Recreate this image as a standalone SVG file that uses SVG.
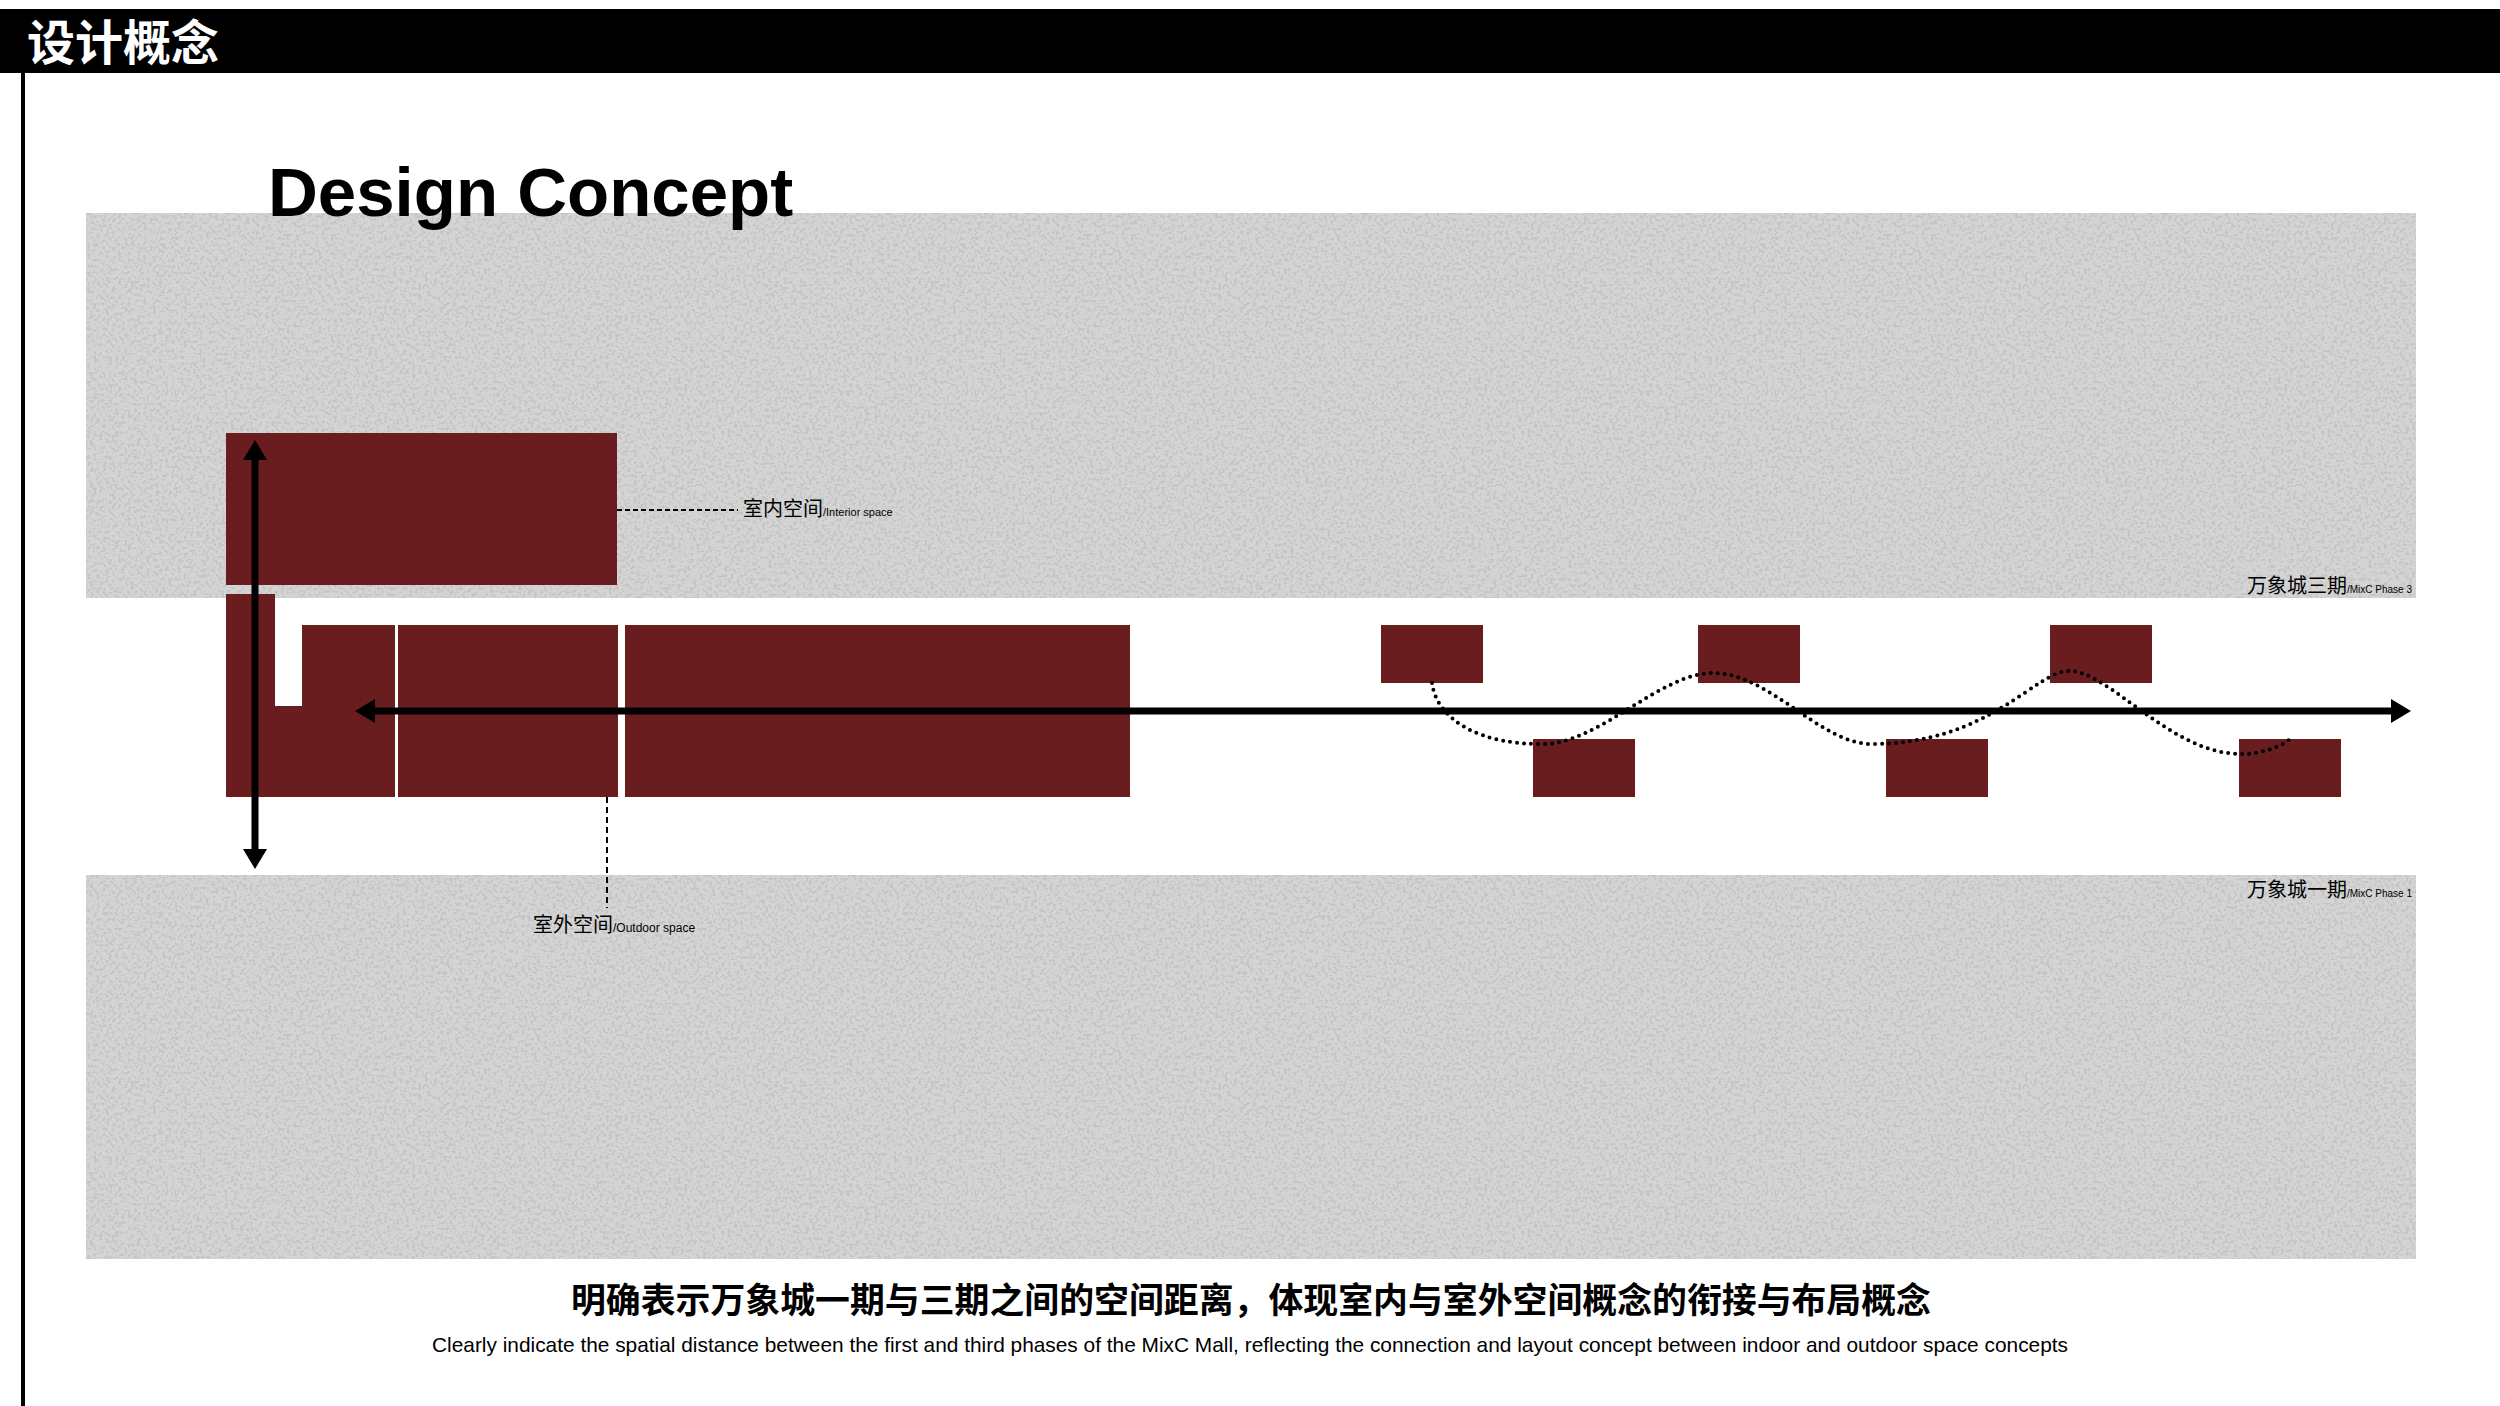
<svg xmlns="http://www.w3.org/2000/svg" width="2500" height="1406" viewBox="0 0 2500 1406">
  <defs>
    <style>
      .red { fill: #6a1d1f; }
      .band { fill: #d4d4d4; }
      .grain { fill: #000; filter: url(#grainF); }
      .cjk { font-family: "Noto Sans CJK SC", "Liberation Sans", sans-serif; fill: #000; }
      .lat { font-family: "Liberation Sans", "Noto Sans", sans-serif; }
      .arrow { stroke: #000; stroke-width: 7; fill: none; marker-start: url(#ah); marker-end: url(#ah); }
      .lead { stroke: #000; stroke-width: 2; fill: none; }
      .dots { stroke: #000; stroke-width: 4; fill: none; stroke-linecap: round; stroke-dasharray: 0 7; }
    </style>
    <filter id="grainF" x="0" y="0" width="1" height="1" filterUnits="objectBoundingBox">
      <feTurbulence type="fractalNoise" baseFrequency="0.32" numOctaves="2" seed="7" result="n"/>
      <feColorMatrix in="n" type="matrix" values="0 0 0 0 0.56  0 0 0 0 0.56  0 0 0 0 0.56  9 0 0 0 -4.6"/>
    </filter>
    <marker id="ah" viewBox="0 0 20 24" refX="10" refY="12" markerWidth="20" markerHeight="24" markerUnits="userSpaceOnUse" orient="auto-start-reverse">
      <path d="M0,0 L20,12 L0,24 Z" fill="#000"/>
    </marker>
  </defs>

  <rect x="0" y="0" width="2500" height="1406" fill="#ffffff"/>

  <!-- header -->
  <g id="header">
    <rect x="0" y="9" width="2500" height="64" fill="#000"/>
    <text class="cjk" x="27" y="60" font-size="48" font-weight="bold" style="fill:#fff">设计概念</text>
    <rect x="21" y="73" width="4" height="1333" fill="#000"/>
  </g>

  <!-- gray bands -->
  <g id="phase3-band">
    <rect class="band" x="86" y="213" width="2330" height="385"/>
    <rect class="grain" x="86" y="213" width="2330" height="385"/>
  </g>
  <g id="phase1-band">
    <rect class="band" x="86" y="875" width="2330" height="384"/>
    <rect class="grain" x="86" y="875" width="2330" height="384"/>
  </g>

  <g id="title">
    <text class="lat" x="268" y="216" font-size="69" font-weight="bold" fill="#000">Design Concept</text>
  </g>

  <!-- red blocks -->
  <g id="interior-block">
    <rect class="red" x="226" y="433" width="391" height="152"/>
  </g>
  <g id="block-l">
    <path class="red" d="M226,594 H275 V706 H302 V625 H395 V797 H226 Z"/>
  </g>
  <g id="block-2">
    <rect class="red" x="398" y="625" width="220" height="172"/>
  </g>
  <g id="block-3">
    <rect class="red" x="625" y="625" width="505" height="172"/>
  </g>
  <g id="pavilion-1"><rect class="red" x="1381" y="625" width="102" height="58"/></g>
  <g id="pavilion-2"><rect class="red" x="1533" y="739" width="102" height="58"/></g>
  <g id="pavilion-3"><rect class="red" x="1698" y="625" width="102" height="58"/></g>
  <g id="pavilion-4"><rect class="red" x="1886" y="739" width="102" height="58"/></g>
  <g id="pavilion-5"><rect class="red" x="2050" y="625" width="102" height="58"/></g>
  <g id="pavilion-6"><rect class="red" x="2239" y="739" width="102" height="58"/></g>

  <!-- connectors -->
  <g id="connectors">
    <line class="arrow" x1="255" y1="450" x2="255" y2="859"/>
    <line class="arrow" x1="365" y1="711" x2="2401" y2="711"/>
    <line class="lead" x1="617" y1="510" x2="738" y2="510" stroke-dasharray="5 3"/>
    <line class="lead" x1="607" y1="797" x2="607" y2="908" stroke-dasharray="6 4"/>
    <path class="dots" d="M1432,683 C1437,720 1480,745 1544,744 C1600,743 1660,673 1713,673 C1770,673 1820,744 1871,744 C1990,744 2035,671 2069,671 C2110,671 2170,754 2241,754 C2260,754 2278,748 2289,740"/>
  </g>

  <!-- labels -->
  <g id="label-interior">
    <text class="cjk" x="743" y="516" font-size="20">室内空间<tspan class="lat" font-size="11">/Interior space</tspan></text>
  </g>
  <g id="label-outdoor">
    <text class="cjk" x="533" y="932" font-size="20">室外空间<tspan class="lat" font-size="12">/Outdoor space</tspan></text>
  </g>
  <g id="label-phase3">
    <text class="cjk" x="2412" y="593" font-size="20" text-anchor="end">万象城三期<tspan class="lat" font-size="10">/MixC Phase 3</tspan></text>
  </g>
  <g id="label-phase1">
    <text class="cjk" x="2412" y="897" font-size="20" text-anchor="end">万象城一期<tspan class="lat" font-size="10">/MixC Phase 1</tspan></text>
  </g>

  <g id="caption">
    <text class="cjk" x="1251" y="1313" font-size="35" font-weight="bold" text-anchor="middle" textLength="1360" lengthAdjust="spacingAndGlyphs">明确表示万象城一期与三期之间的空间距离，体现室内与室外空间概念的衔接与布局概念</text>
    <text class="lat" x="1250" y="1352" font-size="21" text-anchor="middle" textLength="1636" lengthAdjust="spacingAndGlyphs" fill="#000">Clearly indicate the spatial distance between the first and third phases of the MixC Mall, reflecting the connection and layout concept between indoor and outdoor space concepts</text>
  </g>
</svg>
